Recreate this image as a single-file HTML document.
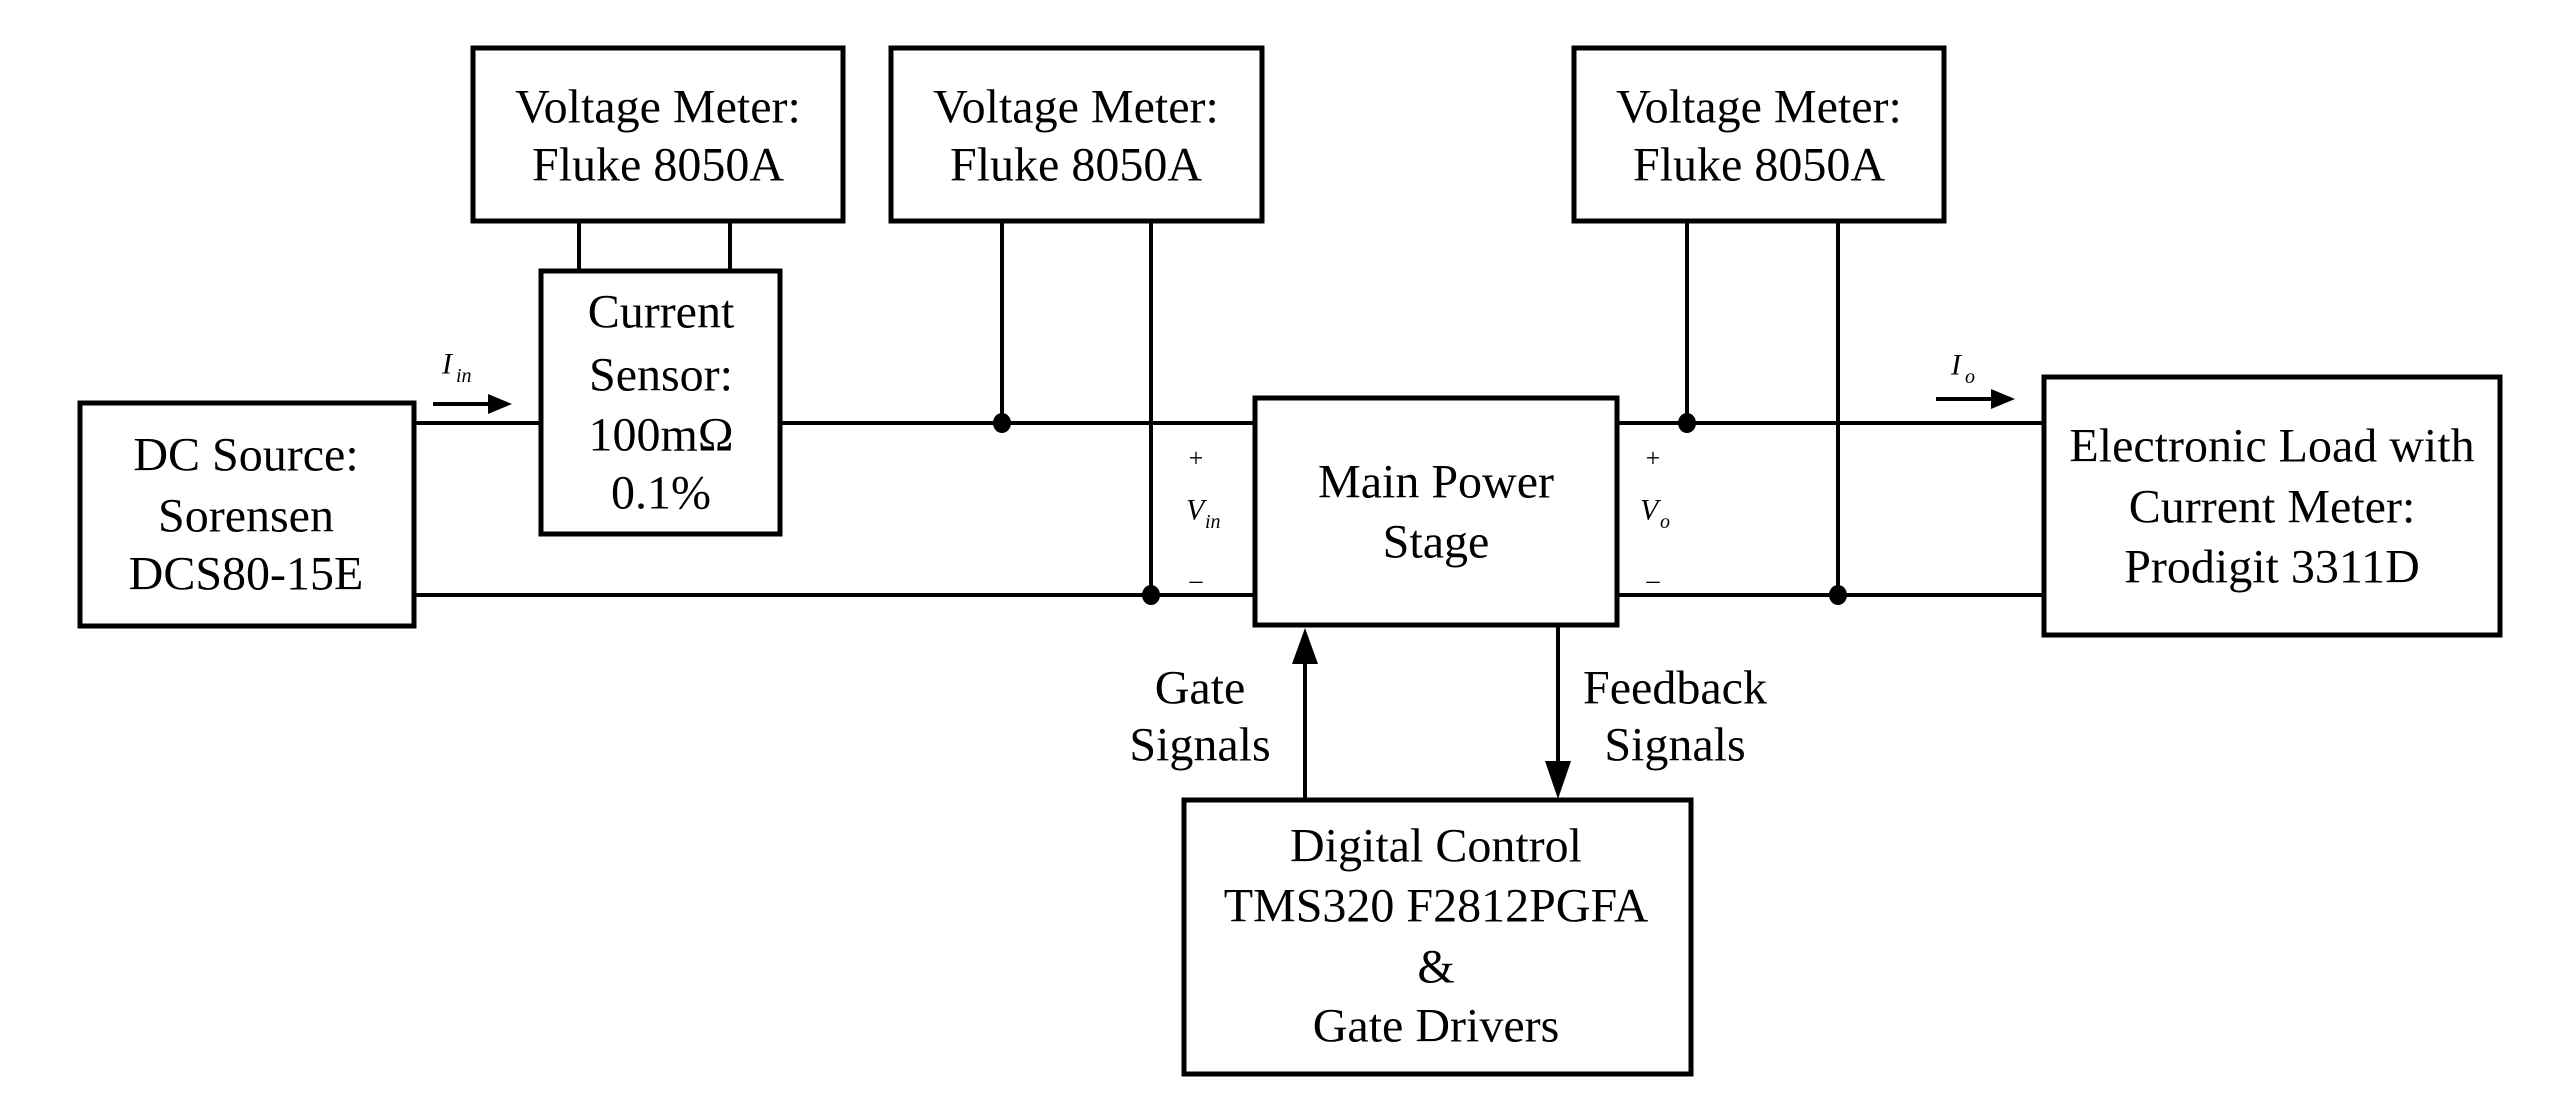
<!DOCTYPE html>
<html><head><meta charset="utf-8"><style>html,body{margin:0;padding:0;background:#fff}svg{display:block}</style></head>
<body>
<svg width="2553" height="1097" viewBox="0 0 2553 1097" xmlns="http://www.w3.org/2000/svg" font-family="Liberation Serif, serif" fill="none" stroke="#000">
<g stroke-width="5">
<rect x="473" y="48" width="370" height="173"/>
<rect x="891" y="48" width="371" height="173"/>
<rect x="1574" y="48" width="370" height="173"/>
<rect x="541" y="271" width="239" height="263"/>
<rect x="80" y="403" width="334" height="223"/>
<rect x="1255" y="398" width="362" height="227"/>
<rect x="2044" y="377" width="456" height="258"/>
<rect x="1184" y="800" width="507" height="274"/>
</g>
<g stroke-width="4">
<line x1="579" y1="221" x2="579" y2="271"/>
<line x1="730" y1="221" x2="730" y2="271"/>
<line x1="414" y1="423" x2="541" y2="423"/>
<line x1="780" y1="423" x2="1255" y2="423"/>
<line x1="414" y1="595" x2="1255" y2="595"/>
<line x1="1617" y1="423" x2="2044" y2="423"/>
<line x1="1617" y1="595" x2="2044" y2="595"/>
<line x1="1002" y1="221" x2="1002" y2="423"/>
<line x1="1151" y1="221" x2="1151" y2="595"/>
<line x1="1687" y1="221" x2="1687" y2="423"/>
<line x1="1838" y1="221" x2="1838" y2="595"/>
<line x1="1305" y1="660" x2="1305" y2="800"/>
<line x1="1558" y1="625" x2="1558" y2="765"/>
<line x1="433" y1="404" x2="490" y2="404"/>
<line x1="1936" y1="399" x2="1993" y2="399"/>
</g>
<g fill="#000" stroke="none">
<ellipse cx="1002" cy="423" rx="9" ry="10"/>
<ellipse cx="1151" cy="595" rx="9" ry="10"/>
<ellipse cx="1687" cy="423" rx="9" ry="10"/>
<ellipse cx="1838" cy="595" rx="9" ry="10"/>
<polygon points="1305,628 1292,664 1318,664"/>
<polygon points="1558,799 1545,761 1571,761"/>
<polygon points="512,404 488,394 488,414"/>
<polygon points="2015,399 1991,389 1991,409"/>
</g>
<g fill="#000" stroke="none" font-size="48" text-anchor="middle" dominant-baseline="central" xml:space="preserve">
<text x="658" y="107">Voltage Meter:</text>
<text x="658" y="165">Fluke 8050A</text>
<text x="1076" y="107">Voltage Meter:</text>
<text x="1076" y="165">Fluke 8050A</text>
<text x="1759" y="107">Voltage Meter:</text>
<text x="1759" y="165">Fluke 8050A</text>
<text x="661" y="312">Current</text>
<text x="661" y="375">Sensor:</text>
<text x="661" y="435">100mΩ</text>
<text x="661" y="493">0.1%</text>
<text x="246" y="455">DC Source:</text>
<text x="246" y="516">Sorensen</text>
<text x="246" y="574">DCS80-15E</text>
<text x="1436" y="482">Main Power</text>
<text x="1436" y="542">Stage</text>
<text x="2272" y="446">Electronic Load with</text>
<text x="2272" y="507">Current Meter:</text>
<text x="2272" y="567">Prodigit 3311D</text>
<text x="1200" y="688">Gate</text>
<text x="1200" y="745">Signals</text>
<text x="1675" y="688">Feedback</text>
<text x="1675" y="745">Signals</text>
<text x="1436" y="846">Digital  Control</text>
<text x="1436" y="906">TMS320 F2812PGFA</text>
<text x="1436" y="967">&amp;</text>
<text x="1436" y="1026">Gate Drivers</text>
</g>
<g fill="#000" stroke="none" font-style="italic" dominant-baseline="central">
<text x="442" y="364" font-size="30">I</text><text x="456" y="376" font-size="20">in</text>
<text x="1951" y="365" font-size="30">I</text><text x="1965" y="377" font-size="20">o</text>
<text x="1186" y="510" font-size="30">V</text><text x="1205" y="522" font-size="20">in</text>
<text x="1640" y="510" font-size="30">V</text><text x="1660" y="522" font-size="20">o</text>
</g>
<g fill="#000" stroke="none" font-size="26" text-anchor="middle" dominant-baseline="central">
<text x="1196" y="458">+</text><text x="1196" y="580">–</text>
<text x="1653" y="458">+</text><text x="1653" y="580">–</text>
</g>
</svg>
</body></html>
